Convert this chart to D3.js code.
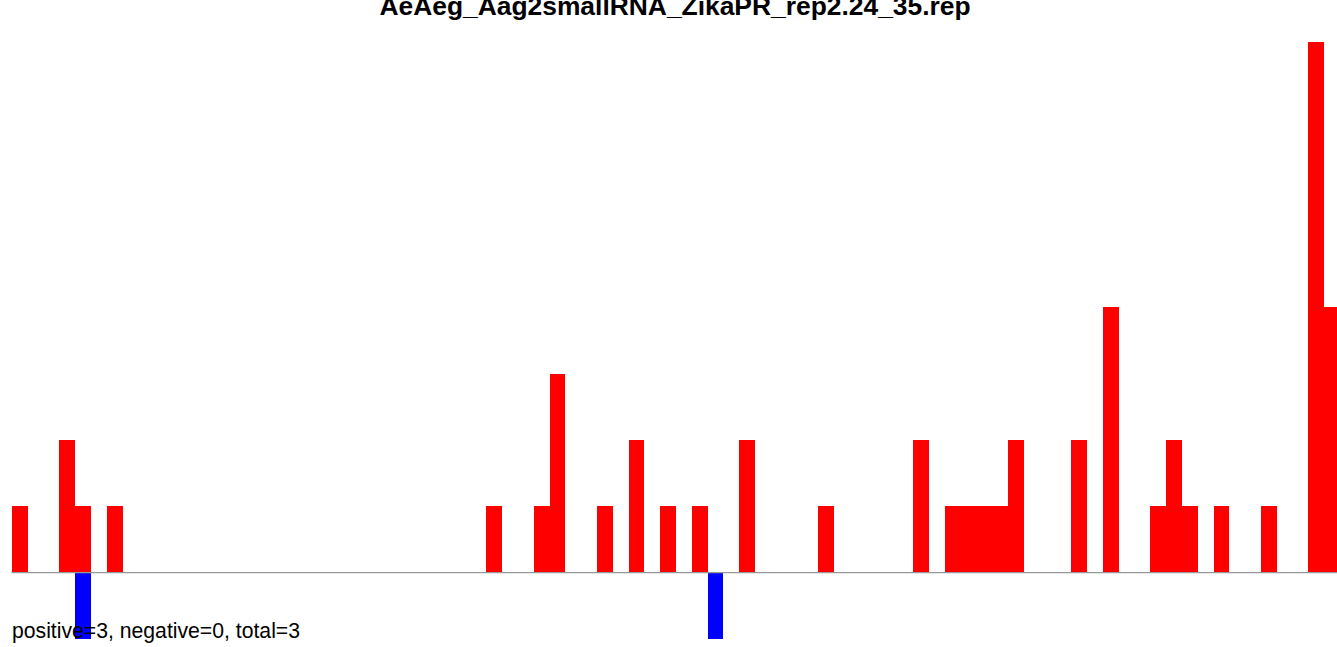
<!DOCTYPE html>
<html>
<head>
<meta charset="utf-8">
<script src="https://cdn.jsdelivr.net/npm/d3@7"></script>
<style>
  html, body { margin: 0; padding: 0; background: #ffffff; overflow: hidden; }
  svg { display: block; }
</style>
</head>
<body>
<svg id="chart" width="1337" height="647"></svg>
<script>
// ---- data ----
const title = "AeAeg_Aag2smallRNA_ZikaPR_rep2.24_35.rep";
const summary = "positive=3, negative=0, total=3";
const positiveCounts = [
  1,0,0,2,1,0,1,0,0,0,
  0,0,0,0,0,0,0,0,0,0,
  0,0,0,0,0,0,0,0,0,0,
  1,0,0,1,3,0,0,1,0,2,
  0,1,0,1,0,0,2,0,0,0,
  0,1,0,0,0,0,0,2,0,1,
  1,1,1,2,0,0,0,2,0,4,
  0,0,1,2,1,0,1,0,0,1,
  0,0,8,4
];
const negativeCounts = [
  0,0,0,0,-1,0,0,0,0,0,
  0,0,0,0,0,0,0,0,0,0,
  0,0,0,0,0,0,0,0,0,0,
  0,0,0,0,0,0,0,0,0,0,
  0,0,0,0,-1,0,0,0,0,0,
  0,0,0,0,0,0,0,0,0,0,
  0,0,0,0,0,0,0,0,0,0,
  0,0,0,0,0,0,0,0,0,0,
  0,0,0,0
];
const positions = d3.range(positiveCounts.length);
const yDomain = [-1, 8];

// ---- layout ----
const W = 1337, H = 647;
const step = 15.81;
const x0 = 12;
const svg = d3.select("#chart");

const x = d3.scaleBand()
  .domain(positions)
  .range([x0, x0 + positions.length * step])
  .paddingInner(0).paddingOuter(0);

const y = d3.scaleLinear().domain(yDomain).range([639, 42]);

const g = svg.append("g").attr("shape-rendering", "crispEdges");

g.selectAll("rect.pos")
  .data(positions.filter(i => positiveCounts[i] > 0))
  .enter().append("rect")
  .attr("class", "pos")
  .attr("x", i => x(i))
  .attr("width", x.bandwidth())
  .attr("y", i => y(positiveCounts[i]))
  .attr("height", i => y(0) - y(positiveCounts[i]))
  .attr("fill", "#ff0000");

g.selectAll("rect.neg")
  .data(positions.filter(i => negativeCounts[i] < 0))
  .enter().append("rect")
  .attr("class", "neg")
  .attr("x", i => x(i))
  .attr("width", x.bandwidth())
  .attr("y", y(0))
  .attr("height", i => y(negativeCounts[i]) - y(0))
  .attr("fill", "#0000ff");

// baseline
svg.append("line")
  .attr("x1", x0 - 0.5).attr("x2", W)
  .attr("y1", y(0)).attr("y2", y(0))
  .attr("stroke", "#999999")
  .attr("stroke-width", 1.2);

// title (cut off at the top edge, as in the reference)
svg.append("text")
  .attr("x", 675).attr("y", 15)
  .attr("text-anchor", "middle")
  .attr("font-family", "Liberation Sans, Arial, sans-serif")
  .attr("font-weight", "bold")
  .attr("font-size", "26.4px")
  .attr("fill", "#000")
  .text(title);

// summary
svg.append("text")
  .attr("x", 12).attr("y", 638)
  .attr("font-family", "Liberation Sans, Arial, sans-serif")
  .attr("font-size", "21.2px")
  .attr("fill", "#000")
  .text(summary);
</script>
</body>
</html>
